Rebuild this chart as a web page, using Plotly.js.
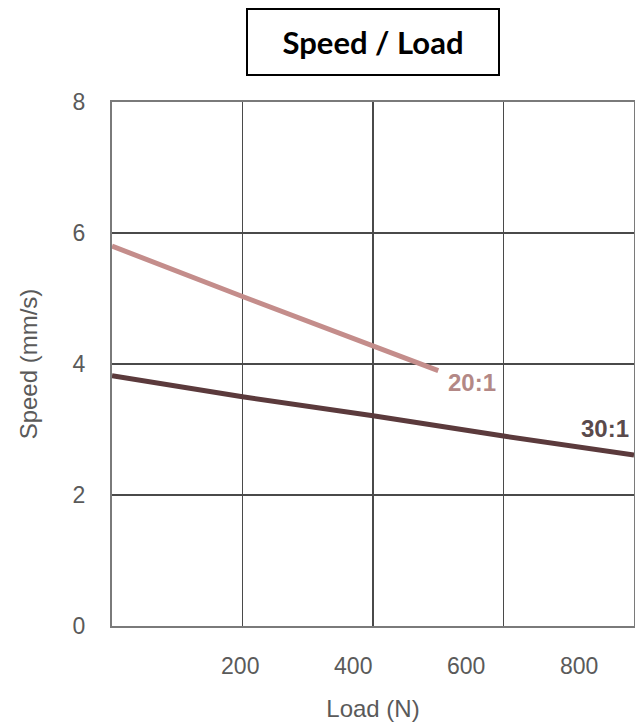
<!DOCTYPE html>
<html>
<head>
<meta charset="utf-8">
<script src="https://cdn.plot.ly/plotly-3.0.1.min.js"></script>
<style>html,body{margin:0;padding:0;background:#fff}#chart{width:635px;height:728px}</style>
</head>
<body>
<div id="chart"></div>
<script>
// Data
const load20 = [0, 200, 500];
const speed20 = [5.8, 5.03, 3.9];
const load30 = [0, 200, 400, 600, 800];
const speed30 = [3.82, 3.50, 3.21, 2.90, 2.61];
const xTickLabels = [200, 400, 600, 800];
const yTickVals = [0, 2, 4, 6, 8];
const seriesNames = ['20:1', '30:1'];

const grey = '#5a5a5a';
const traces = [
  {x: load20, y: speed20, mode: 'lines', name: seriesNames[0],
   line: {color: '#c48d8b', width: 5}, showlegend: false, hoverinfo: 'skip'},
  {x: load30, y: speed30, mode: 'lines', name: seriesNames[1],
   line: {color: '#5b3a3c', width: 5}, showlegend: false, hoverinfo: 'skip'},
  {x: xTickLabels, y: xTickLabels.map(() => null), xaxis: 'x2', mode: 'markers',
   marker: {opacity: 0}, showlegend: false, hoverinfo: 'skip'}
];

const layout = {
  width: 635, height: 728,
  margin: {l: 112, r: 1, t: 102, b: 102},
  paper_bgcolor: '#fff', plot_bgcolor: '#fff',
  font: {family: 'Liberation Sans, Arial, sans-serif', color: grey, size: 20},
  xaxis: {
    range: [0, 800], tickvals: [200, 400, 600, 800], showticklabels: false,
    showgrid: true, gridcolor: '#4a4a4a', gridwidth: 1.5,
    showline: true, linecolor: '#7a7a7a', linewidth: 2, mirror: true,
    zeroline: false, ticks: '', fixedrange: true
  },
  xaxis2: {
    overlaying: 'x', side: 'bottom', range: [-27, 897],
    tickvals: xTickLabels, ticktext: xTickLabels.map(String),
    showgrid: false, zeroline: false, showline: false, ticks: '',
    ticklabelstandoff: 24, tickfont: {size: 23, color: grey}, fixedrange: true,
    title: {text: 'Load (N)', font: {size: 24, color: grey}, standoff: 22}
  },
  yaxis: {
    range: [0, 8], tickvals: yTickVals,
    showgrid: true, gridcolor: '#4a4a4a', gridwidth: 1.5,
    showline: true, linecolor: '#7a7a7a', linewidth: 2, mirror: true,
    zeroline: false, ticks: '', ticklabelstandoff: 20,
    tickfont: {size: 23, color: grey}, fixedrange: true,
    title: {text: 'Speed (mm/s)', font: {size: 24, color: grey}, standoff: 28}
  },
  annotations: [
    {xref: 'paper', yref: 'paper', x: 0.5, y: 1, yshift: 60, xanchor: 'center', yanchor: 'middle',
     text: '<b>Speed / Load</b>', showarrow: false,
     font: {family: 'Lato, Liberation Sans, sans-serif', size: 31, color: '#000'},
     width: 250, height: 64, bordercolor: '#000', borderwidth: 2, borderpad: 0, bgcolor: '#fff'},
    {x: 551, y: 3.72, xref: 'x', yref: 'y', text: '<b>' + seriesNames[0] + '</b>', showarrow: false,
     font: {size: 24, color: '#b38886'}},
    {x: 755, y: 3.02, xref: 'x', yref: 'y', text: '<b>' + seriesNames[1] + '</b>', showarrow: false,
     font: {size: 24, color: '#5a4a4c'}}
  ]
};

Plotly.newPlot('chart', traces, layout, {staticPlot: true, displayModeBar: false});
</script>
</body>
</html>
